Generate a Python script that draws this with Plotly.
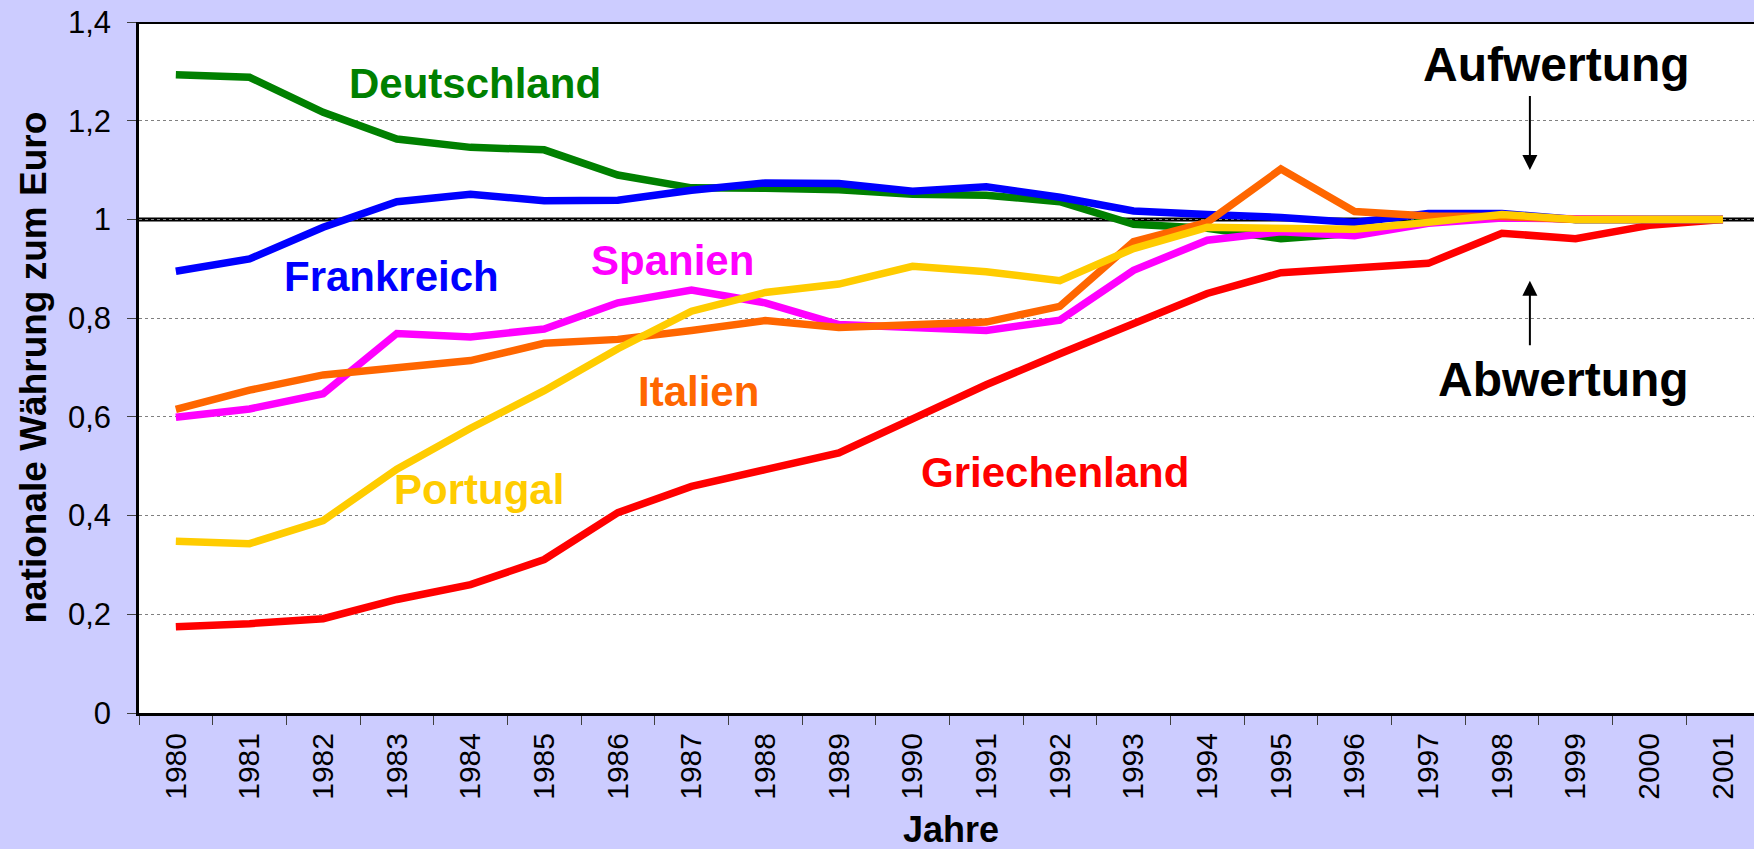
import plotly.graph_objects as go

years = list(range(1980, 2002))
year_labels = [str(y) for y in years]

deutschland = [1.293, 1.288, 1.217, 1.163, 1.146, 1.141, 1.090, 1.064, 1.063, 1.060, 1.051,
               1.049, 1.036, 0.990, 0.982, 0.961, 0.972, 0.997, 1.008, 1.000, 1.000, 1.000]
frankreich = [0.895, 0.920, 0.984, 1.036, 1.051, 1.038, 1.039, 1.059, 1.074, 1.073, 1.057,
              1.066, 1.045, 1.017, 1.010, 1.004, 0.994, 1.012, 1.012, 1.000, 1.000, 1.000]
spanien = [0.599, 0.616, 0.647, 0.769, 0.762, 0.778, 0.831, 0.857, 0.831, 0.787, 0.781,
           0.775, 0.796, 0.897, 0.958, 0.975, 0.967, 0.992, 1.003, 1.000, 1.000, 1.000]
italien = [0.615, 0.654, 0.685, 0.699, 0.714, 0.749, 0.757, 0.775, 0.795, 0.781, 0.786,
           0.792, 0.824, 0.955, 0.994, 1.102, 1.016, 1.007, 1.006, 1.000, 1.000, 1.000]
portugal = [0.348, 0.343, 0.390, 0.494, 0.577, 0.653, 0.738, 0.814, 0.852, 0.869, 0.905,
            0.894, 0.876, 0.941, 0.984, 0.982, 0.980, 0.994, 1.010, 1.000, 1.000, 1.000]
griechenland = [0.175, 0.181, 0.191, 0.230, 0.260, 0.311, 0.406, 0.459, 0.493, 0.527, 0.596,
                0.665, 0.728, 0.790, 0.850, 0.892, 0.900, 0.911, 0.972, 0.961, 0.988, 1.000]

y_tickvals = [0, 0.2, 0.4, 0.6, 0.8, 1.0, 1.2, 1.4]
y_ticktext = ["0", "0,2", "0,4", "0,6", "0,8", "1", "1,2", "1,4"]

# (name, values, colour, label x (year), label y (value))
series = [
    ("Griechenland", griechenland, "#FF0000", 1991.93, 0.488),
    ("Deutschland", deutschland, "#008000", 1984.06, 1.275),
    ("Frankreich", frankreich, "#0000FF", 1982.93, 0.885),
    ("Spanien", spanien, "#FF00FF", 1986.74, 0.917),
    ("Italien", italien, "#FF6600", 1987.10, 0.651),
    ("Portugal", portugal, "#FFCC00", 1984.11, 0.452),
]

FONT = "Arial, 'Liberation Sans', Helvetica, sans-serif"

fig = go.Figure()
for name, vals, col, lx, ly in series:
    fig.add_trace(go.Scatter(x=years, y=vals, mode="lines", name=name,
                             line=dict(color=col, width=7.5), hoverinfo="x+y+name"))

annotations = []
for name, vals, col, lx, ly in series:
    annotations.append(dict(x=lx, y=ly, xref="x", yref="y", text=name, showarrow=False,
                            font=dict(family=FONT, size=42, color=col, weight="bold"),
                            xanchor="center", yanchor="middle"))

# Aufwertung / Abwertung
annotations.append(dict(x=1998.74, y=1.313, xref="x", yref="y", text="Aufwertung", showarrow=False,
                        font=dict(family=FONT, size=48, color="black", weight="bold"),
                        xanchor="center", yanchor="middle"))
annotations.append(dict(x=1998.83, y=0.675, xref="x", yref="y", text="Abwertung", showarrow=False,
                        font=dict(family=FONT, size=48, color="black", weight="bold"),
                        xanchor="center", yanchor="middle"))
arrow_x = 1998.38
annotations.append(dict(x=arrow_x, y=1.10, ax=arrow_x, ay=1.253, xref="x", yref="y",
                        axref="x", ayref="y", text="", showarrow=True, arrowhead=2,
                        arrowsize=1.5, arrowwidth=2, arrowcolor="black"))
annotations.append(dict(x=arrow_x, y=0.876, ax=arrow_x, ay=0.742, xref="x", yref="y",
                        axref="x", ayref="y", text="", showarrow=True, arrowhead=2,
                        arrowsize=1.5, arrowwidth=2, arrowcolor="black"))

# axis titles
annotations.append(dict(x=-0.0656, y=0.5, xref="paper", yref="paper",
                        text="nationale Währung zum Euro", showarrow=False, textangle=-90,
                        font=dict(family=FONT, size=37, color="black", weight="bold"),
                        xanchor="center", yanchor="middle"))
annotations.append(dict(x=0.503, y=-0.169, xref="paper", yref="paper", text="Jahre",
                        showarrow=False,
                        font=dict(family=FONT, size=36, color="black", weight="bold"),
                        xanchor="center", yanchor="middle"))

shapes = [
    dict(type="line", xref="paper", yref="y", x0=0, x1=1, y0=1.0, y1=1.0,
         line=dict(color="black", width=4), layer="below"),
    dict(type="line", xref="paper", yref="y", x0=0, x1=1, y0=1.4, y1=1.4,
         line=dict(color="black", width=4), layer="above"),
]

left_px, right_px = 139, 1754
bin_px = 73.67
x_right = 1979.5 + (right_px - left_px) / bin_px

fig.update_layout(
    width=1754, height=849,
    margin=dict(l=left_px, r=0, t=22, b=136),
    paper_bgcolor="#CCCCFF", plot_bgcolor="white",
    showlegend=False,
    font=dict(family=FONT, color="black"),
    annotations=annotations, shapes=shapes,
    xaxis=dict(range=[1979.5, x_right], tickmode="array", tickvals=years, ticktext=year_labels,
               tickangle=-90, tickfont=dict(size=30, family=FONT, color="black"),
               ticks="outside", ticklen=9, tickcolor="rgba(0,0,0,0)", ticklabelstandoff=-4,
               showgrid=False, zeroline=False, showline=True, linecolor="black", linewidth=3,
               minor=dict(tickvals=[y - 0.5 for y in years] + [years[-1] + 0.5], ticks="outside",
                          ticklen=9, tickcolor="#404040", tickwidth=1, showgrid=False),
               fixedrange=True),
    yaxis=dict(range=[0, 1.4], tickmode="array", tickvals=y_tickvals, ticktext=y_ticktext,
               tickfont=dict(size=31, family=FONT, color="black"),
               ticks="outside", ticklen=9, tickcolor="#404040", tickwidth=1,
               ticklabelstandoff=10,
               showgrid=True, gridcolor="#808080", griddash="dot", gridwidth=1,
               zeroline=False, showline=True, linecolor="black", linewidth=2.5,
               fixedrange=True),
)

fig.write_html("out.html", config={"displayModeBar": False},
               post_script="document.body.style.margin='0';document.body.style.overflow='hidden';")
